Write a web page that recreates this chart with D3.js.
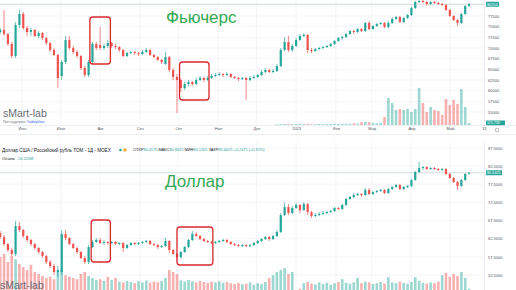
<!DOCTYPE html>
<html>
<head>
<meta charset="utf-8">
<script src="https://cdn.jsdelivr.net/npm/d3@7"></script>
<style>
  body { margin: 0; background: #fff; }
  svg { display: block; font-family: "Liberation Sans", Arial, sans-serif; }
</style>
</head>
<body>
<div id="chart"></div>
<script>
// candles are every 3 calendar days, 15 May 2022 .. 16 May 2023 (123 bars)
const candleDates = d3.timeDay.range(new Date(2022, 4, 15), new Date(2023, 4, 17), 3);

// Si futures
const futOpen = [73750,74220,73280,70940,68120,75390,77970,74690,73750,74220,
  72810,73520,72340,71170,69530,68360,63440,66720,71870,70000,
  69060,68120,65310,63670,66720,70940,70700,70000,70470,71170,
  70470,70230,69530,68120,68830,69060,68830,68590,69060,69530,
  68360,67890,67190,66250,67890,64840,63200,62500,60620,61560,
  62030,61560,62500,62970,62500,62970,63440,63670,63900,63670,
  63900,63200,62970,62730,62970,62500,62970,63200,63670,64370,
  64840,64370,64610,65780,69530,71410,69530,70470,71870,72810,
  73050,69530,69300,69760,70000,70230,70470,70940,71640,72340,
  72580,73280,73980,73750,74450,73980,75860,74450,75160,75620,
  75860,74920,75860,76800,77270,76090,77030,77730,79380,80780,
  81020,80780,80310,80780,80550,80310,80080,78910,77500,76560,
  75860,77970,79840];
const futHigh = [74690,78910,73520,71410,76090,78910,78440,75160,74690,74450,
  73980,73750,72580,71410,70000,68590,67190,72810,72810,70470,
  69530,68360,65780,67190,71410,71410,74920,70940,71870,71410,
  70940,70470,69760,69060,69300,69300,69060,69530,70000,69760,
  68590,68120,67420,69060,68120,65310,63900,62970,62030,62500,
  62260,62970,63440,63200,63440,63900,64140,64370,64140,64370,
  64140,63440,63200,63200,63200,63440,63670,63900,64840,65310,
  65080,65080,66250,70000,72580,72810,70940,72340,73280,73520,
  73280,70000,70000,70230,70470,70700,71170,71870,72580,72810,
  73520,74220,74220,74690,74690,76090,76330,75390,75860,76090,
  76090,76330,77270,77500,77500,77270,77970,79610,81020,81250,
  81250,81020,81020,81020,80780,80550,80310,79140,77730,76800,
  78200,80080,80550];
const futLow = [73280,72810,70470,67660,67660,74690,74220,72810,72810,72580,
  72340,71870,70700,69060,68120,60620,62500,66250,69530,68590,
  67660,64840,63200,63200,66250,69530,69530,69530,70000,70000,
  69760,69060,67890,67890,68590,68360,68120,68360,68830,68120,
  67660,66950,66250,66010,64370,62500,54760,59690,60150,61090,
  61090,61330,62260,62030,62260,62730,63200,63440,63200,63440,
  62970,62730,62260,62500,57810,62260,62730,62970,63440,64140,
  64140,64140,64370,65550,69300,69060,69060,70230,71640,72580,
  68830,68830,69060,69530,69760,70000,70230,70700,71410,71870,
  72340,73050,73280,73520,73750,73750,74220,74220,74920,75390,
  74690,74690,75620,76560,75860,75860,76800,77500,79140,80550,
  80550,79840,80080,80310,80080,79840,78670,77270,76330,75160,
  75620,77730,79610];
const futClose = [74220,73280,70940,68120,75390,77970,74690,73750,74220,72810,
  73520,72340,71170,69530,68360,62970,66720,71870,70000,69060,
  68120,65310,63670,66720,70940,70000,70000,70470,71170,70470,
  70230,69530,68120,68830,69060,68830,68590,69060,69530,68360,
  67890,67190,66720,67890,64840,63200,62500,60620,61560,62030,
  61560,62500,62970,62500,62970,63440,63670,63900,63670,63900,
  63200,62970,62730,62970,62500,62970,63200,63670,64370,64840,
  64370,64610,65780,69530,71410,69530,70470,71870,72810,73050,
  69530,69300,69760,70000,70230,70470,70940,71640,72340,72580,
  73280,73980,73750,74450,73980,75860,74450,75160,75620,75860,
  74920,75860,76800,77270,76090,77030,77730,79380,80780,81020,
  80780,80310,80780,80550,80310,80080,78910,77500,76560,75860,
  77970,79840,80254];
// volume, mln contracts
const futVol = [0,0,0,0,0,0,0,0,0,0, 0,0,0,0,0,0,0,0,0,0,
  0,0,0,0,0,0,0,0,0,0, 0,0,0,0,0,0,0,0,0,0,
  0,0,0,0,0,0,0,0,0,0, 0,0,0,0,0,0,0,0,0,0,
  0,0,0,0,0,0,0,0,0,0, 0,0,
  0.04,0.05,0.05,0.05,0.04,0.05,0.05,0.04,0.05,0.04,
  0.04,0.05,0.04,0.05,0.05,0.06,0.05,0.06,0.07,0.06,
  0.08,0.07,0.14,0.16,0.14,0.11,0.09,0.11,
  0.4,1.35,1.1,0.75,0.8,0.75,0.8,0.65,0.8,1.85,
  1.1,0.65,0.9,0.75,0.7,0.5,1.3,1.0,1.25,1.05,
  1.8,0.9,0.1];

// USD/RUB TOM
const usdOpen = [64.06,62.96,61.03,59.38,58.28,65.99,64.89,63.23,62.13,61.03,
  59.93,58.83,57.73,56.08,54.98,53.32,53.32,63.78,62.68,61.03,
  59.93,58.83,57.18,56.08,60.20,61.58,62.13,61.31,61.58,61.31,
  61.58,61.03,61.31,59.93,60.75,61.31,61.03,61.31,61.58,61.86,
  61.03,60.75,60.20,60.48,61.86,59.38,58.28,57.45,58.83,60.20,
  62.13,63.78,63.23,62.41,61.86,61.58,61.31,61.58,61.86,62.13,
  61.58,61.03,60.75,60.48,60.75,60.48,60.75,61.31,61.86,62.41,
  62.96,62.41,63.23,64.34,69.01,71.22,69.56,70.94,71.77,70.39,
  72.04,69.84,68.74,69.01,69.29,69.56,69.84,70.12,70.94,70.67,
  71.77,73.42,73.97,74.52,74.79,74.52,75.89,74.79,75.34,75.62,
  75.89,75.07,76.17,76.72,77.27,76.17,76.72,77.00,78.65,80.85,
  81.95,82.22,81.67,81.95,81.67,81.40,81.67,80.30,79.20,78.10,
  77.00,78.65,80.4175];
const usdHigh = [64.61,63.51,61.31,59.93,67.36,67.09,65.16,63.51,62.41,61.31,
  60.20,59.10,58.00,56.63,55.53,54.98,64.89,64.89,62.96,61.31,
  60.20,59.10,57.73,60.75,62.13,62.68,62.68,62.13,61.86,61.86,
  61.86,61.58,61.58,61.03,61.58,61.58,61.58,61.86,62.13,62.13,
  61.31,61.03,60.75,62.68,62.13,59.65,58.55,59.10,60.48,62.41,
  64.61,64.34,63.51,62.68,62.13,61.86,61.86,62.13,62.41,62.41,
  61.86,61.31,61.03,61.03,61.03,61.03,61.58,62.13,62.68,63.23,
  63.23,63.51,64.89,69.56,72.32,72.04,71.49,72.32,72.04,72.59,
  72.32,70.12,69.56,69.84,70.12,70.12,70.39,71.22,71.22,72.04,
  73.69,74.24,75.07,75.07,75.07,76.45,76.45,75.62,75.89,76.17,
  76.17,76.45,77.00,77.55,77.55,77.00,77.27,78.92,81.12,83.60,
  82.50,82.50,82.22,82.22,81.95,81.95,81.95,80.57,79.47,78.37,
  78.92,80.57,80.8425];
const usdLow = [62.41,60.48,58.83,57.73,57.73,64.34,62.68,61.58,60.48,59.38,
  58.28,57.18,55.53,54.43,52.50,51.95,52.50,62.13,60.75,59.65,
  58.28,56.90,55.53,55.53,59.93,61.31,61.03,60.75,60.75,61.03,
  60.75,60.75,58.83,59.65,60.48,60.75,60.75,61.03,61.31,60.75,
  60.48,59.65,59.93,60.20,58.55,58.00,56.63,56.90,58.55,59.93,
  61.86,62.96,62.13,61.58,61.31,61.03,61.03,61.31,61.58,61.31,
  60.75,60.48,60.20,60.20,60.20,60.20,60.48,61.03,61.58,62.13,
  61.86,62.13,62.96,64.06,68.74,69.01,69.29,70.67,69.56,70.12,
  69.01,68.19,68.46,68.74,69.01,69.29,69.56,69.84,70.39,70.39,
  71.49,73.14,73.69,74.24,73.97,74.24,74.52,74.52,75.07,75.34,
  74.79,74.79,75.89,76.45,75.89,75.89,76.45,76.72,78.37,80.57,
  81.40,81.40,81.40,81.40,81.12,81.12,80.02,78.92,77.82,75.89,
  76.72,78.37,80.1325];
const usdClose = [62.96,61.03,59.38,58.28,65.99,64.89,63.23,62.13,61.03,59.93,
  58.83,57.73,56.08,54.98,53.32,53.87,63.78,62.68,61.03,59.93,
  58.83,57.18,56.08,60.20,61.58,62.13,61.31,61.58,61.31,61.58,
  61.03,61.31,59.93,60.75,61.31,61.03,61.31,61.58,61.86,61.03,
  60.75,60.20,60.48,61.86,59.38,58.28,57.45,58.83,60.20,62.13,
  63.78,63.23,62.41,61.86,61.58,61.31,61.58,61.86,62.13,61.58,
  61.03,60.75,60.48,60.75,60.48,60.75,61.31,61.86,62.41,62.96,
  62.41,63.23,64.34,69.01,71.22,69.56,70.94,71.77,70.39,72.04,
  69.84,68.74,69.01,69.29,69.56,69.84,70.12,70.94,70.67,71.77,
  73.42,73.97,74.52,74.79,74.52,75.89,74.79,75.34,75.62,75.89,
  75.07,76.17,76.72,77.27,76.17,76.72,77.00,78.65,80.85,81.95,
  82.22,81.67,81.95,81.67,81.40,81.67,80.30,79.20,78.10,77.00,
  78.65,80.30,80.6425];
// volume, bln RUB
const usdVol = [8.8,9.5,7.5,9,8.2,7,6.2,5.5,6.8,5,
  4.5,4,3.5,3.8,3.2,5,5.5,4.2,3.8,3.5,
  3.2,4.5,5,4,3.5,3,3.2,2.8,3.8,3,
  3.5,2.6,2.4,2.8,2.5,2.2,2.7,2.4,2.9,2.3,
  2.6,2.4,2.8,3.5,5.5,5,4.5,2.9,2.6,3,
  2.7,2.4,2.8,2.5,2.3,2.6,2.4,2.7,2.3,2.5,
  2.2,2,2.3,1.9,2.1,2.4,1.8,2.2,2,2.5,
  3.5,4.2,5,5.5,6,4.5,5,0.3,0.8,2.2,
  2.5,2.1,1.9,2.4,2,2.3,1.8,2.2,2.5,3.2,
  2.3,2.1,2.4,3.5,2.2,2.6,2.4,2,2.2,2.5,
  2.1,3.7,2.4,2.2,2.6,2.3,2.1,2.5,3.7,2.8,
  2.3,2.1,2.4,2.2,2.6,4.2,4.8,3.8,4.5,4,
  5,3.5,0.8];

const futTicks = [55000, 57500, 60000, 62500, 65000, 67500, 70000, 72500, 75000, 77500];
const usdTicks = [52.5, 57.5, 62.5, 67.5, 72.5, 77.5, 82.5, 87.5];
const monthTicks = [new Date(2022,5,1), new Date(2022,6,1), new Date(2022,7,1), new Date(2022,8,1),
  new Date(2022,9,1), new Date(2022,10,1), new Date(2022,11,1), new Date(2023,0,1),
  new Date(2023,1,1), new Date(2023,2,1), new Date(2023,3,1), new Date(2023,4,1), new Date(2023,4,31)];
const monthLabels = ["Июн","Июл","Авг","Сен","Окт","Ноя","Дек","2023","Фев","Мар","Апр","Май","31"];

// red boxes drawn on the picture
const boxPanel = ["fut", "fut", "usd", "usd"];
const boxStart = [new Date(2022,6,24), new Date(2022,9,2), new Date(2022,6,25), new Date(2022,8,30)];
const boxEnd = [new Date(2022,7,9), new Date(2022,9,25), new Date(2022,7,9), new Date(2022,9,28)];
const boxHigh = [77270, 66720, 67.64, 65.71];
const boxLow = [66250, 57810, 56.08, 55.25];

const width = 516, height = 290, plotW = 484;
const up = "#26a69a", down = "#ef5350";

var svg = d3.select("#chart")
  .append("svg")
    .attr("width", width)
    .attr("height", height);

var x = d3.scaleTime()
  .domain([new Date(2022, 4, 14, 20), new Date(2023, 4, 27, 16)])
  .range([0, plotW])
  .clamp(true);

function drawPanel(cfg) {
  var y = d3.scaleLinear().domain(cfg.domain).range(cfg.range);
  var yv = d3.scaleLinear().domain([0, cfg.volMax]).range([cfg.volBase, cfg.volBase - cfg.volH]);

  svg.append("clipPath").attr("id", cfg.id + "-clip")
    .append("rect")
      .attr("x", 0).attr("y", cfg.top)
      .attr("width", plotW).attr("height", cfg.bottom - cfg.top);

  var g = svg.append("g");

  // grid
  g.selectAll(".vgrid").data(monthTicks.slice(0, -1)).enter().append("line")
    .attr("x1", d => x(d)).attr("x2", d => x(d))
    .attr("y1", cfg.top).attr("y2", cfg.bottom)
    .attr("stroke", "#eff1f5").attr("stroke-width", 0.7);
  g.selectAll(".hgrid").data(cfg.ticks).enter().append("line")
    .attr("x1", 0).attr("x2", plotW)
    .attr("y1", d => y(d)).attr("y2", d => y(d))
    .attr("stroke", "#eff1f5").attr("stroke-width", 0.7);

  var rows = candleDates.map((d, i) => ({
    d: d, o: cfg.open[i], h: cfg.high[i], l: cfg.low[i], c: cfg.close[i], v: cfg.vol[i]
  }));

  var plot = g.append("g").attr("clip-path", "url(#" + cfg.id + "-clip)");

  // volume
  plot.selectAll(".vol").data(rows.filter(r => r.v > 0)).enter().append("rect")
    .attr("x", r => x(r.d) - 1.3)
    .attr("width", 2.6)
    .attr("y", r => yv(r.v))
    .attr("height", r => cfg.volBase - yv(r.v))
    .attr("fill", r => r.c >= r.o ? "rgba(38,166,154,0.45)" : "rgba(239,83,80,0.45)");

  // last price line
  var last = rows[rows.length - 1];
  plot.append("line")
    .attr("x1", 0).attr("x2", plotW)
    .attr("y1", y(last.c)).attr("y2", y(last.c))
    .attr("stroke", "#b9c4c8").attr("stroke-width", 0.6);

  // candles
  plot.selectAll(".wick").data(rows).enter().append("line")
    .attr("x1", r => x(r.d)).attr("x2", r => x(r.d))
    .attr("y1", r => y(r.h)).attr("y2", r => y(r.l))
    .attr("stroke", r => r.c >= r.o ? up : down)
    .attr("stroke-width", 0.7);
  plot.selectAll(".body").data(rows).enter().append("rect")
    .attr("x", r => x(r.d) - 1.1)
    .attr("width", 2.2)
    .attr("y", r => y(Math.max(r.o, r.c)))
    .attr("height", r => Math.max(0.7, Math.abs(y(r.o) - y(r.c))))
    .attr("fill", r => r.c >= r.o ? up : down);

  // price scale
  g.append("line")
    .attr("x1", plotW + 0.5).attr("x2", plotW + 0.5)
    .attr("y1", cfg.top).attr("y2", cfg.bottom)
    .attr("stroke", "#e0e3eb").attr("stroke-width", 0.6);
  g.append("g")
    .attr("transform", "translate(" + (plotW + 4) + ",0)")
    .call(d3.axisRight(y).tickValues(cfg.ticks).tickSize(0).tickPadding(0).tickFormat(cfg.fmt))
    .call(a => a.select(".domain").remove())
    .attr("font-size", 4)
    .attr("font-family", null)
    .selectAll("text").attr("fill", "#50535e");

  // last price badge
  g.append("rect")
    .attr("x", plotW + 2).attr("y", y(last.c) - 2.6)
    .attr("width", cfg.badgeW).attr("height", 5.2).attr("rx", 0.6)
    .attr("fill", up);
  g.append("text")
    .attr("x", plotW + 3).attr("y", y(last.c) + 1.4)
    .attr("font-size", 3.8).attr("fill", "#fff")
    .text(cfg.badge(last.c));

  // red boxes
  boxPanel.forEach((p, i) => {
    if (p !== cfg.id) return;
    g.append("rect")
      .attr("x", x(boxStart[i])).attr("y", y(boxHigh[i]))
      .attr("width", x(boxEnd[i]) - x(boxStart[i]))
      .attr("height", y(boxLow[i]) - y(boxHigh[i]))
      .attr("rx", 3)
      .attr("fill", "none")
      .attr("stroke", "#d8282c")
      .attr("stroke-width", 1.3);
  });

  return {y: y, yv: yv, g: g};
}

// top: futures
var fut = drawPanel({
  id: "fut", top: 0, bottom: 125,
  domain: [55000, 77500], range: [112, 16],
  volMax: 2, volBase: 125, volH: 40,
  open: futOpen, high: futHigh, low: futLow, close: futClose, vol: futVol,
  ticks: futTicks, fmt: d3.format("d"),
  badgeW: 13, badge: v => d3.format("d")(v)
});

// bottom: USD/RUB
var usd = drawPanel({
  id: "usd", top: 141, bottom: 290,
  domain: [52.5, 82.5], range: [275, 166],
  volMax: 10, volBase: 292, volH: 40,
  open: usdOpen, high: usdHigh, low: usdLow, close: usdClose, vol: usdVol,
  ticks: usdTicks, fmt: d3.format(".4f"),
  badgeW: 16, badge: v => d3.format(".4f")(v)
});

// time axis of the top chart
svg.append("line")
  .attr("x1", 0).attr("x2", width).attr("y1", 125.5).attr("y2", 125.5)
  .attr("stroke", "#e0e3eb").attr("stroke-width", 0.6);
svg.append("line")
  .attr("x1", 0).attr("x2", width).attr("y1", 134.5).attr("y2", 134.5)
  .attr("stroke", "#e0e3eb").attr("stroke-width", 0.6);
svg.append("g")
  .attr("transform", "translate(0,127.6)")
  .call(d3.axisBottom(x).tickValues(monthTicks).tickSize(0).tickPadding(0)
    .tickFormat((d, i) => monthLabels[i]))
  .call(a => a.select(".domain").remove())
  .attr("font-size", 4)
  .attr("font-family", null)
  .selectAll("text").attr("fill", "#50535e");

// volume badge + settings icon
svg.append("rect")
  .attr("x", plotW + 2).attr("y", 120.6).attr("width", 19).attr("height", 4.6).attr("rx", 0.6)
  .attr("fill", up);
svg.append("text")
  .attr("x", plotW + 3).attr("y", 124.2).attr("font-size", 3.6).attr("fill", "#fff")
  .text("115.738");
svg.append("circle")
  .attr("cx", 497).attr("cy", 130).attr("r", 1.8)
  .attr("fill", "none").attr("stroke", "#8a8d96").attr("stroke-width", 0.6);

// bottom chart header
svg.append("text")
  .attr("x", 2).attr("y", 151.6)
  .attr("font-size", 4.6).attr("fill", "#131722")
  .text("Доллар США / Российский рубль TOM - 1Д - MOEX");
svg.append("circle").attr("cx", 120.5).attr("cy", 150).attr("r", 1.3).attr("fill", up);
svg.append("rect").attr("x", 123.5).attr("y", 148.5).attr("width", 3).attr("height", 3)
  .attr("rx", 0.5).attr("fill", "#f6a935");

const ohlcNames = ["ОТКР", "МАКС", "МИН", "ЗАКР", ""];
const ohlcValues = ["80.4175", "80.8425", "80.1325", "80.6425", "+0.2475 (+0.31%)"];
var ohlc = svg.append("text")
  .attr("x", 133).attr("y", 151.4).attr("font-size", 3.9);
ohlcNames.forEach((n, i) => {
  ohlc.append("tspan").attr("fill", "#131722").text((i ? " " : "") + n);
  ohlc.append("tspan").attr("fill", up).text(ohlcValues[i]);
});

svg.append("text")
  .attr("x", 2).attr("y", 160.2).attr("font-size", 3.9).attr("fill", "#131722")
  .text("Объём");
svg.append("text")
  .attr("x", 18).attr("y", 160.2).attr("font-size", 3.9).attr("fill", up)
  .text("26.155M");

// captions
svg.append("text")
  .attr("x", 166).attr("y", 23)
  .attr("font-size", 17).attr("fill", "#33a852")
  .text("Фьючерс");
svg.append("text")
  .attr("x", 165).attr("y", 186.5)
  .attr("font-size", 17).attr("fill", "#33a852")
  .text("Доллар");

// watermarks
svg.append("text")
  .attr("x", 3).attr("y", 117)
  .attr("font-size", 10.5).attr("fill", "#6a6d78")
  .text("sMart-lab");
var credit = svg.append("text")
  .attr("x", 3).attr("y", 122.6).attr("font-size", 3.2).attr("fill", "#787b86");
credit.append("tspan").text("При поддержке ");
credit.append("tspan").attr("fill", "#2962ff").text("TradingView");
svg.append("text")
  .attr("x", 0).attr("y", 289)
  .attr("font-size", 10.5).attr("fill", "#6a6d78")
  .text("sMart-lab");
</script>
</body>
</html>
